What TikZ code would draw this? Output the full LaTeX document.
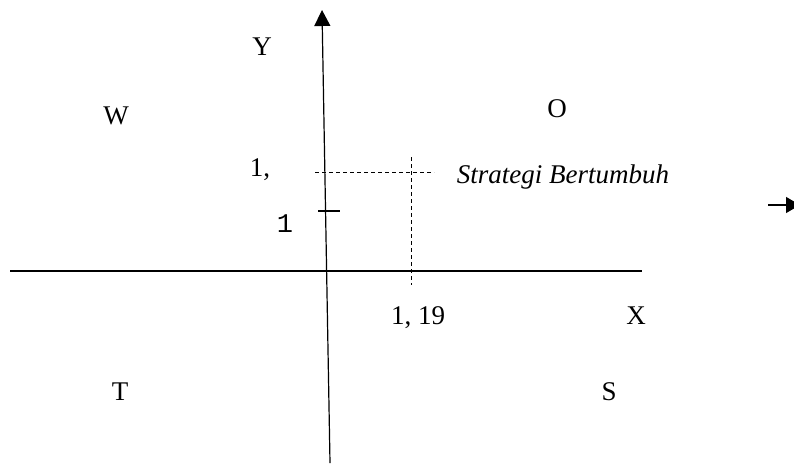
\documentclass[tikz,border=0pt]{standalone}
\usepackage{fontspec}
\setmainfont{Liberation Serif}
\newfontfamily\monof{Liberation Mono}
\usetikzlibrary{arrows.meta}
\begin{document}
\begin{tikzpicture}[x=1pt,y=-1pt,
  lbl/.style={anchor=base,inner sep=0pt,font=\fontsize{27}{30}\selectfont},
  axis/.style={line width=1.2pt},
  dsh/.style={line width=1pt,dash pattern=on 4pt off 3pt}]
\useasboundingbox (0,0) rectangle (794,469);
% axes
\coordinate (ytop) at (322,10);
\coordinate (ybot) at (330,463);
\draw[axis,-{Triangle[length=16pt,width=16pt]}] (ybot) -- (ytop);
\coordinate (xl) at (10,271);
\coordinate (xr) at (642,271);
\draw[axis] (xl) -- (xr);
% tick
\coordinate (t1) at (318,211);
\coordinate (t2) at (340,211);
\draw[axis] (t1) -- (t2);
% dashed
\coordinate (dh1) at (315,172);
\coordinate (dh2) at (434,172);
\draw[dsh] (dh1) -- (dh2);
\coordinate (dv1) at (411,157);
\coordinate (dv2) at (411,285);
\draw[dsh] (dv1) -- (dv2);
% right arrow
\coordinate (ra1) at (768,205);
\coordinate (ra2) at (800,205);
\draw[axis,-{Triangle[length=14pt,width=16pt]}] (ra1) -- (ra2);
% labels
\node[lbl] (Y) at (262,55) {Y};
\node[lbl] (W) at (116,124) {W};
\node[lbl] (O) at (557,117) {O};
\node[lbl] (c1) at (260,176) {1,};
\node[lbl,font=\monof\fontsize{27}{30}\selectfont] (one) at (285,232) {1};
\node[lbl] (sb) at (563,183) {\itshape Strategi Bertumbuh};
\node[lbl] (c119) at (418,324) {1, 19};
\node[lbl] (X) at (636,324) {X};
\node[lbl] (T) at (120,400) {T};
\node[lbl] (S) at (609,400) {S};
\end{tikzpicture}
\end{document}
